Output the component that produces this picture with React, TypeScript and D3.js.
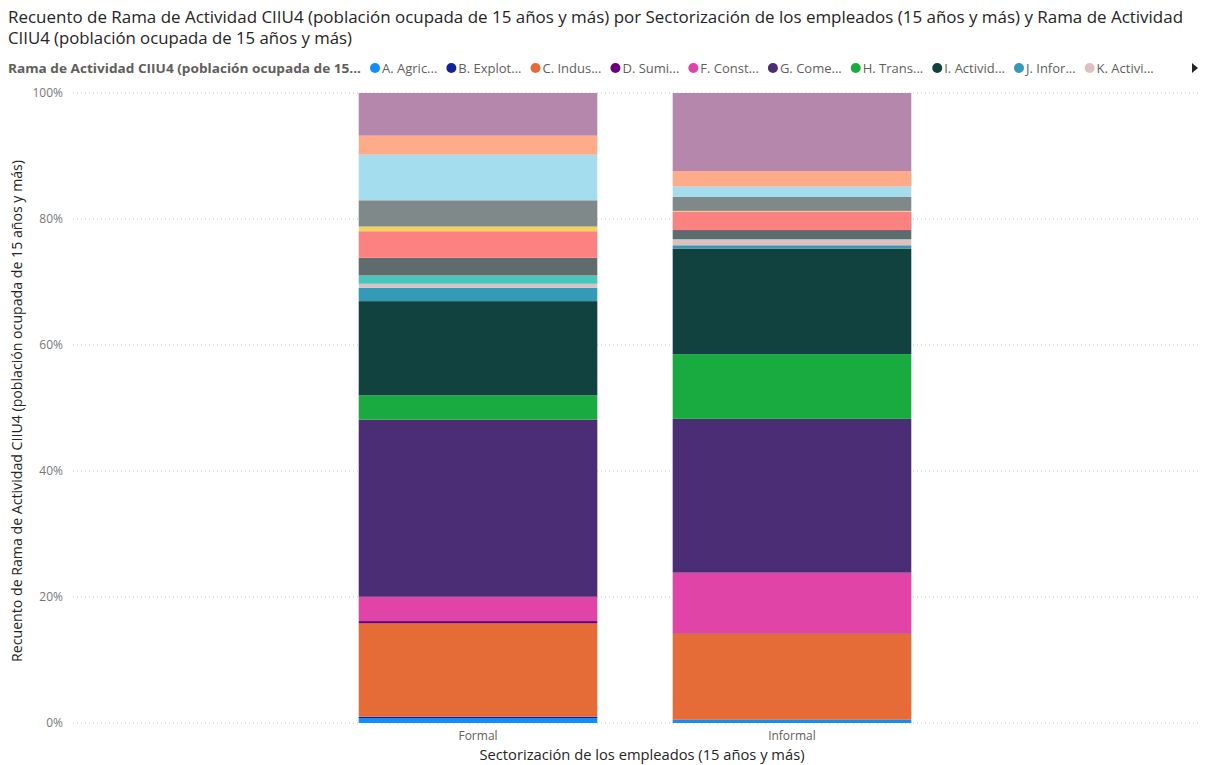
import React from "react";
import * as d3 from "d3";

const sectors = ["Formal", "Informal"];

const branchCodes = ["A", "B", "C", "D", "F", "G", "H", "I", "J", "K", "L", "M", "N", "O", "P", "Q", "R", "S"];
const branchLegend = ["A. Agric...", "B. Explot...", "C. Indus...", "D. Sumi...", "F. Const...", "G. Come...", "H. Trans...", "I. Activid...", "J. Infor...", "K. Activi..."];
const branchColors = ["#118DFF", "#12239E", "#E66C37", "#6B007B", "#E044A7", "#4B2D75", "#1AAB40", "#124240", "#3599B8", "#DFBFBF", "#4AC5BB", "#5F6B6D", "#FB8281", "#F4D25A", "#7F898A", "#A4DDEE", "#FDAB89", "#B687AC"];

// percentage share of each branch, per sector (A..S)
const formalValues = [0.79, 0.21, 14.83, 0.37, 3.86, 28.16, 3.86, 14.97, 2.13, 0.63, 1.32, 2.81, 4.22, 0.75, 4.17, 7.25, 3.02, 6.78];
const informalValues = [0.48, 0.05, 13.76, 0.05, 9.62, 24.51, 10.32, 16.83, 0.52, 0.9, 0.1, 1.43, 2.95, 0.1, 2.22, 1.65, 2.48, 12.44];

const yTicks = [0, 0.2, 0.4, 0.6, 0.8, 1];

const titleLine1 = "Recuento de Rama de Actividad CIIU4 (población ocupada de 15 años y más) por Sectorización de los empleados (15 años y más) y Rama de Actividad";
const titleLine2 = "CIIU4 (población ocupada de 15 años y más)";
const legendTitle = "Rama de Actividad CIIU4 (población ocupada de 15...";
const yTitle = "Recuento de Rama de Actividad CIIU4 (población ocupada de 15 años y más)";
const xTitle = "Sectorización de los empleados (15 años y más)";

const FONT = "'Segoe UI', 'Open Sans', 'Noto Sans', sans-serif";

function measure(text: string, font: string): number {
  const c = document.createElement("canvas").getContext("2d");
  if (!c) return text.length * 6.5;
  c.font = font;
  return c.measureText(text).width;
}

export default function App() {
  const W = 1211, H = 765;
  const plotTop = 93, plotBottom = 723;
  const plotLeft = 73, plotRight = 1197;

  const rows = sectors.map((s, i) => {
    const vals = i === 0 ? formalValues : informalValues;
    const r: any = { sector: s };
    branchCodes.forEach((c, j) => (r[c] = vals[j]));
    return r;
  });

  const stack = d3.stack<any>().keys(branchCodes).offset(d3.stackOffsetExpand);
  const series = stack(rows);

  const x = d3.scaleBand<string>().domain(sectors).range([plotLeft, plotRight]).paddingInner(0.24).paddingOuter(0.91);
  const y = d3.scaleLinear().domain([0, 1]).range([plotBottom, plotTop]);
  const color = d3.scaleOrdinal<string, string>().domain(branchCodes).range(branchColors);

  // legend layout
  const legendFont = `13px ${FONT}`;
  let lx = 375;
  const legendItems = branchLegend.map((label, i) => {
    const w = measure(label, legendFont);
    const item = { label, cx: lx, tx: lx + 7, color: branchColors[i] };
    lx += 7 + w + 14;
    return item;
  });

  return (
    <svg width={W} height={H} style={{ display: "block", position: "absolute", left: 0, top: 0, background: "#fff" }}>
      <text x={8} y={23} fontFamily={FONT} fontSize={16} fill="#252423" textLength={1175} lengthAdjust="spacingAndGlyphs">{titleLine1}</text>
      <text x={8} y={44} fontFamily={FONT} fontSize={16} fill="#252423" textLength={344} lengthAdjust="spacingAndGlyphs">{titleLine2}</text>

      <text x={8} y={73} fontFamily={FONT} fontSize={13} fontWeight="bold" fill="#605E5C" textLength={353} lengthAdjust="spacingAndGlyphs">{legendTitle}</text>
      {legendItems.map((it) => (
        <g key={it.label}>
          <circle cx={it.cx} cy={68} r={5} fill={it.color} />
          <text x={it.tx} y={73} fontFamily={FONT} fontSize={13} fill="#605E5C">{it.label}</text>
        </g>
      ))}
      <path d="M1192,63 L1198,68 L1192,73 Z" fill="#252423" />

      {yTicks.map((t) => (
        <g key={t}>
          <line x1={plotLeft} x2={1200} y1={y(t)} y2={y(t)} stroke="#C8C8C8" strokeDasharray="1,3" />
          <text x={63} y={y(t) + 4} textAnchor="end" fontFamily={FONT} fontSize={12} fill="#777777">{d3.format(".0%")(t)}</text>
        </g>
      ))}

      {series.map((s) => (
        <g key={s.key} fill={color(s.key)}>
          {s.map((d) => (
            <rect key={d.data.sector} x={x(d.data.sector)} width={x.bandwidth()} y={y(d[1])} height={Math.max(0, y(d[0]) - y(d[1]))} />
          ))}
        </g>
      ))}

      {sectors.map((s) => (
        <text key={s} x={(x(s) || 0) + x.bandwidth() / 2} y={740} textAnchor="middle" fontFamily={FONT} fontSize={12} fill="#605E5C">{s}</text>
      ))}

      <text x={642} y={760} textAnchor="middle" fontFamily={FONT} fontSize={14} fill="#252423" textLength={325} lengthAdjust="spacingAndGlyphs">{xTitle}</text>
      <text transform={`translate(22,${(160 + 662) / 2}) rotate(-90)`} textAnchor="middle" fontFamily={FONT} fontSize={14} fill="#252423" textLength={502} lengthAdjust="spacingAndGlyphs">{yTitle}</text>
    </svg>
  );
}
